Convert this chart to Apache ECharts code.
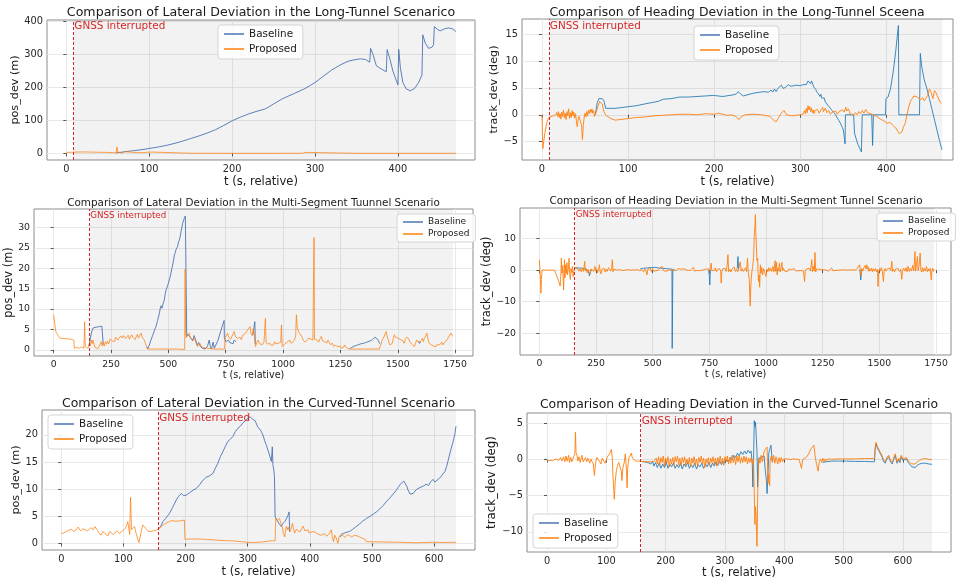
<!DOCTYPE html>
<html>
<head>
<meta charset="utf-8">
<script src="https://cdn.jsdelivr.net/npm/echarts@6.0.0/dist/echarts.min.js"></script>
<style>
html, body { margin: 0; padding: 0; background: #fff; }
#main { width: 959px; height: 585px; }
</style>
</head>
<body>
<div id="main"></div>
<script>
// ---- data ----
// long tunnel, lateral deviation (m)
var latLongBase = [[60,1.5],[62,1],[65,3],[70,5],[80,8],[90,11],[100,15],[110,19],[120,24],[130,30],[140,37],[150,45],[160,53],[170,62],[180,72],[190,85],[200,99],[210,110],[220,120],[230,128],[240,135],[250,150],[260,165],[266,172],[275,182],[288,197],[300,215],[312,238],[320,253],[330,268],[340,280],[347,284],[355,287],[361,285],[366,277],[367,319],[370,300],[374,266],[380,256],[386,248],[387,315],[390,290],[394,250],[400,208],[401,316],[403,260],[406,215],[410,196],[415,190],[420,197],[425,215],[429,238],[430,360],[433,335],[437,319],[441,322],[443,330],[444,385],[448,376],[451,372],[456,378],[461,381],[466,378],[470,370]];
var latLongProp = [[0,3],[10,4],[20,4.5],[30,4],[40,3.5],[50,3],[56,2.5],[60,1.5],[61,20],[62,5],[64,0.5],[67,1],[70,5],[75,4.5],[80,3.5],[85,2.5],[90,2],[95,3],[100,4],[105,4],[107,0.5],[150,0.5],[200,0.3],[250,0.3],[285,0.5],[288,3],[291,3],[293,0.5],[350,0.3],[400,0.3],[450,0.3],[470,0.3]];

// long tunnel, heading deviation (deg)
var headLongBase = [[62,0],[64,2.1],[66,3],[68,3.2],[70,3],[72,2.6],[74,1.2],[76,0.9],[85,1.2],[100,1.5],[110,1.7],[122,2.1],[135,2.5],[141,2.9],[150,3],[160,3.3],[170,3.3],[180,3.4],[190,3.5],[199,3.6],[210,3.4],[222,3.7],[226,3.9],[228,4.3],[231,3.8],[234,3.5],[245,4],[257,4.3],[263,4.2],[266,4.6],[268,4.2],[270,4.8],[272,4.3],[274,4.9],[276,5.2],[278,5.5],[280,4.9],[283,5.1],[286,5.6],[289,5.3],[292,5.4],[296,5.5],[300,5.4],[303,5.6],[305,5.9],[307,5.6],[309,6.3],[310,6],[311,6.5],[312,5.8],[313,6.3],[314,5.9],[315,5.5],[316,5.1],[317,5.4],[318,4.7],[319,4.3],[320,4.6],[321,3.9],[322,4.1],[323,3.4],[324,3.8],[325,3.1],[326,3.3],[327,2.9],[328,3.1],[329,2.4],[330,2.6],[331,2],[332,2.2],[333,1.6],[334,1.8],[335,1.2],[336,1.5],[337,0.8],[338,1.1],[339,0.4],[340,0.6],[341,0],[342,0.2],[343,-0.6],[344,-0.3],[345,-1.1],[346,-0.9],[347,-1.7],[348,-1.5],[349,-2.4],[350,-2.8],[351,-4],[352,-5.4],[352.5,0],[362,0],[363,-3.4],[365,-4.5],[367,-5.5],[369,-6.2],[371,-6.9],[372,0],[383,0],[384,-5.7],[385,0],[399,0],[399.5,3],[402,3.3],[405,5],[408,8],[411,12],[414,16.6],[414.5,0],[438.5,0],[439.4,11.4],[441,9],[444,6.5],[447,4.9],[450,3],[453,1],[456,-1],[459,-3],[462,-5],[464.6,-6.5]];
var headLongProp = [[0,0],[1,-6.3],[2,-5],[4,-2.8],[6,-1.2],[8,-0.5],[10,-0.3],[13,-0.2],[16,0],[17,0.4],[18,-0.3],[19,0.6],[20,-0.5],[21,0.2],[22,-0.8],[23,0.5],[24,-0.3],[25,0.9],[26,-0.6],[27,0.3],[28,-0.9],[29,0.6],[30,-0.2],[31,1.1],[32,-0.7],[33,0.4],[34,-0.5],[35,0.8],[36,-0.2],[37,0.5],[38,-0.6],[39,0.2],[40,-1.2],[41,-2.2],[42,-0.8],[43,-0.3],[44,-0.5],[45,-0.2],[46,-2],[47,-4.6],[48,-2],[49,-0.5],[50,0.3],[51,-0.4],[52,0.6],[53,-0.2],[54,0.9],[55,0.2],[56,1],[57,0.4],[58,1.1],[59,0.3],[60,0.8],[61,-0.3],[62,0],[63,-0.5],[64,1],[65,1.5],[66,2],[67,2.5],[68,2.8],[69,2.4],[70,2],[71,1.2],[72,0.6],[73,0.2],[75,-0.2],[80,-0.7],[85,-1],[90,-0.9],[100,-0.7],[110,-0.5],[120,-0.4],[130,-0.2],[140,-0.1],[150,0],[160,0.1],[170,0.1],[180,0],[190,0.2],[200,0.1],[205,0.3],[210,0.1],[215,-0.1],[220,0],[225,-0.3],[229,-0.9],[232,-0.3],[236,0],[245,0.1],[255,0],[265,-0.3],[269,-1],[272,-1.3],[275,-0.5],[278,0.3],[281,0.8],[284,0],[290,-0.2],[300,0],[303,0.1],[305,0.8],[306,0.2],[307,1.2],[308,0.4],[309,1.7],[310,0.9],[311,1.5],[312,0.6],[313,1.3],[314,0.4],[315,0.9],[316,0.2],[317,0.8],[318,0.5],[320,1],[322,0.3],[324,0.9],[326,1.4],[327,0.6],[329,1.2],[331,0.4],[333,0.8],[335,0.1],[337,0.5],[339,0.2],[341,0.7],[343,0.1],[345,0.6],[347,0.3],[349,0.9],[351,0.5],[353,1.4],[354,0.7],[356,1.1],[358,0.2],[360,0.5],[362,-0.1],[364,0.4],[366,0],[368,0.6],[370,0.2],[372,0.8],[374,0.3],[376,1],[378,0.4],[380,0.1],[382,0.2],[385,0],[389,-0.3],[393,-0.8],[397,-1.1],[401,-1.6],[404,-1.4],[408,-2],[411,-2.5],[413,-3],[415,-3.5],[417,-3.8],[418,-3.2],[420,-2.2],[422,-1.5],[424,0],[426,1.5],[428,2.5],[430,3],[432,3.5],[434,3.7],[436,3.3],[438,3.1],[440,2.8],[442,3.2],[444,2.6],[446,2.9],[448,3.6],[450,4.8],[452,4.2],[454,3],[456,4.5],[458,4],[460,3.2],[462,2.5],[464,2.1]];

// multi-segment tunnel, lateral deviation (m); null = same as Proposed
var latMultiBase = [[153,1],[156,1.6],[160,2.8],[164,4.1],[171,5.3],[180,5.5],[190,5.6],[200,5.7],[210,5.8],[214,5.9],[216,1.5],[217,null],[405,0.8],[410,0.2],[417,1.2],[424,2.4],[432,3.6],[440,4.9],[446,5.7],[453,7.2],[461,9],[465,10.3],[468,10.8],[472,10.2],[475,10.2],[478,11.5],[482,12.2],[486,13.6],[490,14.7],[495,15.4],[500,16.3],[504,16.7],[508,17.9],[512,19],[516,20.1],[519,20.4],[523,22],[526,23.2],[530,23.8],[533,24.5],[537,24.9],[540,25.3],[544,26.4],[548,26.9],[552,27.9],[555,28.9],[559,30],[562,31],[566,31.6],[569,32.2],[574,32.8],[579,32.4],[580,3.3],[584,3.8],[591,4],[597,3],[606,2.2],[612,3.5],[618,2.6],[625,1.2],[632,1.8],[640,0.8],[649,0.4],[660,0.2],[670,0.8],[678,2.4],[683,0.8],[688,0.2],[695,1.9],[700,0.4],[707,0.2],[714,2],[721,3.2],[728,4.6],[736,6],[743,7.2],[744,3],[750,2],[756,1.6],[762,2.4],[768,1.8],[775,2.2],[782,1.5],[787,2.4],[795,2],[796,null],[868,3.6],[873,5.5],[877,6.9],[879,1.5],[880,null],[1290,0.3],[1300,0.6],[1310,0.9],[1320,1.1],[1330,1.3],[1340,1.5],[1350,1.6],[1360,1.8],[1370,2],[1380,2.2],[1390,2.5],[1400,3.1],[1406,3],[1412,2.6],[1418,2.5],[1422,1.5],[1423,null],[1588,2.2],[1595,1.6],[1600,2]];
var latMultiProp = [[0,8.6],[4,8.2],[9,4.5],[14,4],[19,3.7],[26,2.9],[40,2.8],[55,2.7],[70,2.7],[88,2.4],[90,0.4],[100,0.6],[113,0.4],[122,0.7],[132,0.4],[135,6.9],[138,0.8],[142,0.5],[149,0.4],[153,1],[156,1.6],[160,1],[164,2.4],[168,1.5],[171,2.4],[176,1.4],[180,0.6],[185,0.8],[192,0.3],[200,0.4],[204,1.5],[207,2],[211,1],[215,1.8],[220,0.9],[226,2],[230,1.4],[235,2.1],[240,1.5],[245,2.6],[251,2.9],[256,2.2],[260,2.6],[265,2],[270,3.1],[275,3.3],[280,2.4],[285,3],[290,2.6],[295,3.4],[300,2.9],[305,3.5],[309,3.7],[314,2.8],[320,3.2],[325,3.6],[330,2.6],[335,3.2],[340,3.7],[345,3.1],[350,3.4],[355,2.5],[360,3.2],[365,3.8],[370,2.9],[375,3.5],[381,4.1],[385,3.2],[390,3.3],[395,2.4],[400,1.5],[405,0.8],[410,0.2],[450,0.2],[500,0.2],[540,0.2],[571,0.1],[573,19.7],[575,4.1],[578,3],[581,3.6],[584,3.3],[588,4],[591,4.1],[595,3],[600,3.2],[606,2.4],[610,3],[613,3.3],[618,2.2],[622,1.5],[627,0.8],[632,1.2],[637,1.6],[642,1.3],[647,0.6],[652,0.2],[700,0.2],[745,0.2],[747,2.9],[752,3.3],[758,4.1],[763,3.1],[768,3.5],[772,2.6],[777,3.3],[782,3.9],[787,4.5],[792,3.3],[797,3.6],[802,2.8],[806,2.4],[812,3.1],[818,2.5],[824,3.6],[830,3.2],[836,4],[842,4.4],[847,5],[852,5.3],[856,5.7],[859,4.2],[862,4.1],[866,3.5],[870,5.2],[874,3.8],[880,0.8],[885,1.8],[891,2.4],[897,1.5],[903,1.9],[910,1.3],[917,2],[923,7.7],[926,1.9],[932,1.4],[937,1.8],[942,1.6],[948,1.1],[953,1.5],[957,1.2],[963,2],[968,1.5],[973,1.7],[978,1.6],[985,1.2],[990,1.9],[993,6.1],[996,0.8],[1002,1.2],[1008,1.5],[1014,1.6],[1020,2],[1025,1.9],[1029,2.4],[1035,1.6],[1040,1.3],[1043,1.6],[1050,2.4],[1055,3.5],[1058,8.6],[1062,5.4],[1065,4.9],[1069,4.3],[1072,4.5],[1077,4.1],[1082,3.3],[1087,2.4],[1092,2.8],[1096,1.9],[1101,2],[1106,2.4],[1111,2.9],[1116,3.3],[1121,2.6],[1126,2.2],[1130,2.4],[1133,2.2],[1135,27.5],[1137,2.6],[1140,2.8],[1145,2.3],[1150,2.4],[1155,1.9],[1160,2.6],[1167,3.3],[1172,2.2],[1177,2.4],[1181,2],[1186,2.2],[1191,1.7],[1196,2.4],[1201,1.9],[1206,1.3],[1210,1.2],[1215,1.6],[1220,0.9],[1225,0.8],[1230,1.1],[1235,0.7],[1239,0.8],[1244,0.5],[1249,0.9],[1254,0.4],[1260,0.8],[1264,0.6],[1268,1.2],[1272,0.9],[1277,0.5],[1283,0.8],[1290,0.2],[1350,0.2],[1420,0.2],[1423,0.8],[1428,1.5],[1432,2.4],[1435,2.6],[1440,3.2],[1445,3.6],[1449,4.5],[1453,3.4],[1458,2.6],[1462,1.7],[1466,1.2],[1471,0.8],[1476,1.6],[1480,2.6],[1485,3.7],[1490,3.1],[1495,3.4],[1500,2.9],[1505,3.3],[1510,2.6],[1514,2.4],[1518,2.9],[1523,2.2],[1528,1.6],[1533,2.6],[1538,3.1],[1543,3.3],[1548,2.7],[1552,2],[1557,1.8],[1562,1.4],[1567,1.1],[1572,0.8],[1577,1.5],[1582,2.4],[1587,2.4],[1592,1.9],[1597,1.6],[1602,2.3],[1607,2.8],[1612,2],[1616,2.9],[1622,3.4],[1627,4.1],[1632,2.6],[1637,1.6],[1642,1.8],[1647,1.2],[1652,1.2],[1657,0.9],[1662,0.8],[1667,0.8],[1672,1.4],[1677,1.6],[1682,1.2],[1687,1.4],[1692,1.9],[1696,1.2],[1701,1.6],[1706,2],[1711,1.9],[1716,2.5],[1721,3.1],[1725,3.3],[1729,2.9],[1732,4.1],[1736,3.6],[1740,3.4]];

// multi-segment tunnel, heading deviation (deg)
var headMultiBase = [[158,0.6],[165,0.9],[172,0.7],[180,1],[188,0.6],[196,0.8],[204,0.4],[212,0.6],[218,-0.6],[221,-1.8],[223,-2.4],[225,-0.5],[232,0.2],[233,null],[445,0.4],[452,0.9],[460,0.6],[468,1.1],[476,0.7],[484,1.2],[492,0.8],[500,1.3],[508,0.9],[516,1.1],[524,0.7],[532,1],[540,0.6],[548,0.9],[556,0.5],[564,0.7],[572,0.4],[580,0.5],[585,0.3],[586,-24.8],[588,-24.5],[589,0.2],[596,0.3],[597,null],[747,0.2],[750,-2],[752,-4.7],[754,-0.5],[757,0.2],[758,null],[873,0.5],[876,4.3],[879,0.3],[880,null],[1414,0.2],[1418,-3.1],[1421,0.3]];
var headMultiProp = [[0,3.3],[3,3],[5,-3],[7,-7.3],[9,-3],[12,0],[30,0],[50,0],[67,0],[75,-1.5],[85,-3.5],[92,-5],[95,-1],[97,3.8],[100,-1],[103,1.5],[107,-6.3],[109,-1],[111,3.3],[113,-2.5],[116,1.7],[119,-1],[122,2.4],[124,-1.5],[126,-2],[129,1],[131,3.8],[134,-1.5],[137,-3],[140,0.5],[143,-0.8],[146,1.2],[149,-2],[152,-0.5],[156,0.6],[160,0.2],[165,0.9],[171,0.6],[175,-0.3],[180,0.4],[185,-0.5],[190,0.7],[195,-0.4],[200,2.8],[203,-0.3],[207,0.5],[211,-0.8],[215,0.3],[219,-0.5],[223,-1.2],[227,0.4],[231,-0.2],[235,0.6],[240,-0.4],[245,1.2],[249,-0.3],[253,0.5],[257,-0.8],[261,0.2],[265,1.7],[268,-0.4],[272,-1.2],[276,0.3],[280,-0.3],[285,0.6],[290,-0.6],[295,0.4],[300,-0.4],[305,0.8],[310,0.2],[315,-0.3],[319,0.6],[322,3.3],[325,-0.5],[329,0.4],[333,-0.2],[337,0.3],[342,0],[348,-0.4],[354,0.2],[360,-0.3],[364,-0.1],[370,0.1],[380,0],[390,0.2],[400,0],[410,0.1],[420,0],[430,0.2],[440,-0.1],[450,0.1],[455,0.3],[460,-0.5],[465,0.4],[470,-0.3],[475,-1.5],[479,0.4],[484,-0.2],[489,0.6],[494,-0.4],[499,0.5],[504,-0.3],[509,0.3],[514,-0.2],[519,0.4],[524,-0.1],[530,0.6],[537,0.2],[542,1.2],[547,-0.1],[552,0.3],[557,-0.4],[562,0.2],[570,0],[578,0.3],[587,0.1],[595,0.2],[603,-0.2],[610,0.5],[617,0],[624,0.3],[631,-0.3],[638,0.4],[646,0.6],[652,0],[658,0.2],[665,-0.1],[672,0.5],[680,0.9],[684,-0.3],[690,0.2],[696,-0.1],[702,0.3],[708,-0.2],[713,0.2],[718,0],[725,0.1],[733,0.3],[740,-0.1],[746,0.4],[752,-0.3],[758,2.2],[761,-0.2],[765,0.3],[770,-0.1],[776,0.7],[781,-0.5],[785,0.2],[790,-0.3],[795,0.5],[800,-0.2],[802,-4.1],[805,-0.5],[809,0.4],[814,-0.2],[819,0.6],[824,-0.4],[828,1.2],[832,4.9],[835,-0.5],[840,0.3],[845,-0.6],[850,0.4],[855,-0.2],[860,1],[865,-0.4],[870,0.3],[875,-0.5],[880,0.6],[886,2.6],[890,-0.3],[895,0.5],[900,-0.4],[905,0.2],[910,0.8],[914,-0.5],[918,3.8],[922,-0.8],[926,-3],[930,-11.4],[933,-5],[936,-1.5],[941,1.2],[945,4],[948,10.7],[951,14],[953,17.6],[955,12],[957,8.6],[960,3],[963,3.8],[965,-1],[967,-3.6],[970,-1.5],[972,-5.4],[975,1.7],[978,-1],[981,0.8],[985,-1.5],[989,0.5],[993,-0.4],[1000,-2],[1004,0.3],[1008,-0.5],[1012,0.8],[1016,-0.3],[1020,0.6],[1025,-0.4],[1030,1.2],[1035,-0.5],[1040,3],[1043,-0.4],[1046,2.5],[1049,-1.5],[1052,0.6],[1055,-0.3],[1059,2.2],[1062,-0.6],[1066,0.4],[1070,2.5],[1073,-0.2],[1077,0.6],[1082,-0.3],[1088,0.2],[1094,-0.5],[1100,0.3],[1106,-0.3],[1112,0.2],[1118,-0.4],[1124,0.5],[1130,-0.2],[1136,0.1],[1142,-0.2],[1148,0.3],[1154,-0.1],[1160,0.2],[1165,-0.3],[1170,-3.6],[1173,-0.4],[1178,0.4],[1184,-0.2],[1190,0.6],[1196,-0.3],[1202,3.3],[1205,-0.5],[1209,1.2],[1213,-0.3],[1216,5.6],[1219,-0.6],[1223,0.4],[1228,-0.2],[1233,0.3],[1238,-0.1],[1245,0.2],[1252,-0.2],[1260,0.1],[1268,0.3],[1275,-0.3],[1283,0.2],[1289,0.7],[1295,-0.2],[1302,0.1],[1320,0],[1340,0.1],[1360,0],[1380,0.1],[1391,0],[1400,0.3],[1406,0.6],[1413,1.7],[1416,-0.4],[1420,-1.8],[1423,0.5],[1427,-0.3],[1432,0.8],[1437,1.5],[1441,0.4],[1444,1.7],[1447,0.3],[1450,1.1],[1454,-0.4],[1458,0.5],[1462,-0.3],[1466,0.6],[1470,-0.5],[1475,0.4],[1479,-0.3],[1483,0.5],[1488,-0.6],[1492,0.2],[1494,-5.2],[1497,-0.4],[1501,0.5],[1505,-0.3],[1509,0.8],[1513,-0.4],[1518,-3.6],[1521,-0.2],[1525,0.5],[1530,-0.3],[1535,0.4],[1540,-0.2],[1545,0.6],[1550,-0.1],[1555,2.8],[1558,-0.4],[1562,0.3],[1567,-0.5],[1572,0.4],[1577,-0.2],[1583,0.5],[1588,-0.4],[1594,0.3],[1599,-2.9],[1602,-0.2],[1607,0.6],[1612,-0.3],[1617,0.8],[1622,-0.5],[1627,1.2],[1632,-0.4],[1637,0.6],[1642,-0.3],[1647,1.5],[1652,-0.2],[1657,5.9],[1660,-0.3],[1664,1.8],[1668,4.3],[1671,-0.2],[1675,1.2],[1680,5.4],[1683,0.1],[1687,-0.6],[1690,0.8],[1694,-0.4],[1698,0.6],[1703,-0.3],[1708,1.2],[1712,-0.5],[1716,0.4],[1720,-0.3],[1724,0.6],[1729,-3.1],[1732,-0.2],[1735,0.6],[1738,-0.4],[1741,0.3]];

// curved tunnel, lateral deviation (m)
var latCurveBase = [[156,2.6],[160,3.1],[163.5,4],[168,4.6],[174,5.5],[179,6.6],[185,8],[189,8.7],[193,9.2],[197,8.8],[201,8.9],[206,9.3],[212,9.8],[217,10.1],[222.5,10.8],[227,11.5],[233,12.2],[238,12.4],[244,12.9],[248,13.9],[252,14.8],[256,16],[260,16.9],[264,17.9],[268,18.8],[272,19.2],[276,19.7],[280,20.6],[284,21.2],[288,21.6],[292,22.2],[296,22.6],[300,23.1],[304,23.3],[308,22.9],[312,22.6],[316,21.5],[319,21.1],[322,20.6],[325,19.8],[327,19],[330,18.1],[332.5,17.2],[335,16.3],[338,15.1],[339.5,17.8],[340.5,14.5],[342,13.5],[343,12.3],[344,4.9],[347,4.3],[349,4],[351,3.5],[354,3.1],[356,3.6],[359.5,4],[362,4.5],[365,5.2],[366.5,5.8],[367.5,2.1],[368,null],[449,1.2],[453,1.8],[458,2],[464,2.2],[469,2.6],[474.5,3.1],[480,3.6],[485,4.1],[491,4.6],[497,5],[502,5.4],[507,5.8],[512,6.3],[518,7],[523,7.7],[528,8.3],[534,9.1],[539,9.8],[543,10.5],[547,11.1],[551,11.5],[554,11.7],[556,10.5],[558,9.8],[561,9.1],[563,9],[566,9.2],[568,9.5],[571,9.9],[574,9.8],[577,10.3],[580,10],[583,10.6],[585,10.5],[587,10.9],[589,11.2],[591,10.7],[594,11.3],[596,11.5],[598,11.8],[601,11.3],[603,11.6],[606,11.8],[608,12],[611,12.3],[614,12.8],[617,13.2],[620,14.2],[622,15.1],[625,16.5],[627,17.4],[630,18.6],[633,20],[635,21.6]];
var latCurveProp = [[0,1.85],[4,1.9],[8,2.2],[12,2.4],[16,2.6],[20,2.2],[24,2.5],[27,3],[31,2.3],[35,2.7],[38,2.8],[42,2.3],[45,2.6],[48,2.9],[51,2.5],[54,3.1],[57,2.6],[60,2],[64,1.5],[67,2.2],[70,1.8],[75,1.35],[78,2.2],[81,2.5],[84,1.6],[86,1.6],[89,2.3],[91,2.5],[94,1.8],[97,2.2],[100,2.1],[102,2.6],[105,3.2],[107,4],[109,2.5],[110,1.6],[111.5,8.5],[113,2.5],[115,2.6],[118,3.1],[120,2],[122,1.2],[125,0.1],[128,1.8],[131,3.4],[134,3.2],[137,2.6],[140,2.2],[144,2.2],[148,2.3],[152,2.4],[156,2.6],[160,3],[164,3.4],[168,3.7],[174,4],[178,4.2],[182,4.1],[185,4.3],[188,4.1],[191,4.4],[194,4.2],[196,4.1],[198,4.3],[199,0.75],[210,0.8],[222,0.8],[235,0.7],[249,0.6],[262,0.5],[276,0.45],[290,0.3],[303,0.15],[315,0.2],[324,0.25],[333,0.4],[340,0.5],[344,0.45],[345,4.6],[347,4.2],[349,4],[351,4.6],[353,3.8],[354,4.1],[356,2.8],[357,2],[359.5,1.2],[362,3.1],[364,2.5],[365,3],[367.5,2.1],[370,2.8],[372,3.7],[374,2.5],[375.5,1.9],[378,2.6],[381,2.8],[384,2.1],[386,2.4],[389,3.2],[392,2.3],[394,2.2],[397,2.5],[399,1.9],[402,1.8],[405,2.2],[409,2],[413,1.7],[418,1.5],[421,1.8],[424,1.8],[427,1.3],[429,1.35],[432,1.9],[434.5,2.5],[436,1.2],[438,0.3],[440,1.5],[441,1.8],[443,0.8],[445,0],[447,1.2],[449,1.2],[451,1.8],[453,1.8],[456,1.1],[458,1.2],[461,1.6],[464,1.7],[467,1.2],[469,1.35],[472,1.5],[474.5,1.55],[478,1.3],[480,1.2],[483,1],[485,0.9],[488,0.8],[490,0.8],[491,0.3],[518,0.25],[544,0.2],[557,0.15],[571,0.1],[585,0.15],[598,0.2],[615,0.15],[635,0.2]];

// curved tunnel, heading deviation (deg)
var headCurveBase = [[160,-0.25],[170,-0.4],[175,-0.6],[178,-0.2],[180,-0.9],[183,-0.4],[186,-1.1],[189,-0.5],[192,-1.2],[195,-0.6],[198,-1.1],[201,-0.4],[204,-1.2],[207,-0.6],[210,-1],[213,-0.5],[216,-1.2],[219,-0.7],[222,-1.1],[225,-0.5],[228,-1.3],[231,-0.6],[234,-1],[237,-0.4],[240,-1.2],[243,-0.7],[246,-1.1],[249,-0.5],[252,-1.3],[255,-0.7],[258,-1],[261,-0.5],[264,-1.2],[267,-0.6],[270,-1],[273,-0.4],[276,-1.1],[279,-0.5],[282,-0.9],[285,-0.3],[288,-0.8],[291,-0.2],[294,-0.7],[297,-0.2],[300,-0.5],[303,0],[306,-0.4],[309,0.3],[312,0],[315,0.6],[318,0.3],[321,0.9],[324,0.5],[327,1.1],[330,0.7],[333,1.2],[336,0.8],[339,1.3],[342,0.9],[344,1.2],[346,-0.5],[347,-3.8],[348,-1],[349.4,5.4],[350.5,4.6],[351.5,5.2],[353,5],[354,1],[355,-3.8],[356,-1],[357,0.2],[366,0.5],[368,-1.5],[370,-3],[371,-4.7],[372.5,-2],[374,1],[376,1.6],[377.5,2],[379,0.5],[380,-0.3],[381,null],[465,-0.4],[470,-0.3],[480,-0.2],[490,-0.2],[505,-0.2],[520,-0.25],[535,-0.25],[548,-0.3],[552,-0.3],[553,1.3],[554.5,2.2],[557,1.6],[559,1.3],[562,0.8],[564.6,0.4],[567,-0.2],[570,-0.5],[573,0.1],[576,0.4],[579,-0.3],[582,-0.6],[585,0.2],[587,0.6],[590,-0.5],[593,0],[595,-0.4],[597,0.4],[600,-0.1],[603,-0.3],[606,0.1],[609,-0.4],[612,-0.6],[615,-1],[618,-1.2],[621,-1.1],[624,-0.8],[628,-0.6],[633,-0.5],[638,-0.5],[643,-0.6],[649,-0.65]];
var headCurveProp = [[0,-0.2],[5,-0.1],[10,-0.15],[14,0.1],[17,0.15],[20,-0.1],[23,0.3],[25,-0.2],[28,0.4],[30,-0.3],[32,0.5],[34,-0.2],[36.5,0.6],[38,-0.4],[40,0.3],[42,-0.3],[45,0.4],[47,0.8],[48,3.8],[49,1],[50.5,0.6],[52,-0.2],[54,0.4],[56,-0.4],[59,0.6],[61,-0.3],[63,-0.4],[65,0.3],[67,-0.3],[69,0.2],[72,-0.5],[74,0.1],[76,-0.3],[78,-0.6],[80,-2.2],[82,-0.4],[84,0.3],[87,0.4],[89,-0.3],[91,-0.6],[93,0.2],[95.5,0.1],[98,-0.5],[100,-0.3],[102,0.4],[104,0.6],[106,0.9],[108.4,1.4],[110,0.4],[111,-2],[113.5,-5.5],[115,-3],[117,-1.5],[119,-0.8],[121,-0.4],[123.6,-0.3],[125,-1.5],[126.4,-2.9],[128,-1.1],[130,-0.5],[132,0.8],[134,-1.5],[135,-3.9],[136,-1.2],[138,0.2],[140.4,0.6],[142,0.9],[144,0.2],[147,0.3],[150,-0.2],[154,-0.2],[160,-0.25],[170,-0.3],[180,-0.3],[184,0.2],[186,-0.6],[188,0.4],[190,-0.8],[192,0.3],[194,-0.4],[196,0.5],[198,-0.9],[200,0.2],[202,-0.5],[204,0.4],[206,-1],[208,0.1],[210,-0.6],[212,0.3],[214,-0.8],[216,0.4],[218,-0.3],[220,0.5],[222,-0.7],[224,0.2],[226,-0.9],[228,0.3],[230,-0.4],[232,0.4],[234,-0.8],[236,0.1],[238,-0.6],[240,0.3],[242,-1],[244,0.2],[246,-0.5],[248,0.4],[250,-0.7],[252,0.1],[254,-0.9],[256,0.3],[258,-0.4],[260,0.5],[262,-0.6],[264,0.2],[266,-1.1],[268,0.1],[270,-0.5],[272,0.3],[274,-0.8],[276,0.2],[278,-0.4],[280,0.4],[282,-0.7],[284,0.2],[286,-0.9],[288,0.3],[290,-0.5],[292,0.5],[294,-0.6],[296,0.2],[298,-0.8],[300,0.4],[302,-0.3],[304,0.5],[306,-0.6],[308,0.3],[310,-0.5],[312,0.6],[314,-0.4],[316,0.4],[318,-0.7],[320,0.5],[322,-0.3],[324,0.6],[326,-0.5],[328,0.3],[330,-0.4],[332,0.5],[334,-0.3],[336,0.4],[338,-0.6],[340,0.2],[342,-0.4],[344,0.3],[346,-0.5],[348,0.1],[349.4,-4.7],[350.5,-9],[351.5,-6.5],[352.5,-8],[354,-12],[355,-6],[355.6,-3.3],[357,0.2],[359,-0.5],[361,0.6],[363,-0.3],[365,0.8],[367,1.3],[368,1.5],[370,1.2],[371,1.75],[372.5,-3.3],[373.5,-2],[375.3,-3.6],[376,-0.3],[378,0.5],[380,-0.4],[382,0.6],[384,-0.5],[386,0.4],[387.6,0.4],[389,-0.6],[391,0.3],[393,-0.4],[395,0.3],[397,-0.3],[399,0.1],[402,0],[405,0.1],[410,0],[415,0.1],[420,0.05],[425,0],[427,-0.2],[429,-1.2],[431,0],[434,0.1],[438,0.4],[441,0.8],[445,1.5],[450,2],[452,0.5],[454,-0.5],[457,-1.6],[459,-0.3],[461,0.1],[463,-0.4],[465,0.2],[467,-0.3],[469,0.1],[471,-0.2],[473,0.1],[480,0.05],[490,0.1],[505,0.1],[520,0.1],[535,0.15],[545,0.15],[552,0.15],[553,1.5],[554.5,2.4],[557,1.8],[559,1.6],[562,1],[564.6,0.6],[567,0],[570,-0.3],[573,0.3],[576,0.6],[579,-0.1],[582,-0.4],[585,0.4],[587,0.8],[590,-0.3],[593,0.2],[595,-0.2],[597,0.6],[600,0.1],[603,-0.1],[606,0.3],[609,-0.2],[612,-0.2],[615,-0.6],[618,-0.8],[621,-0.6],[624,-0.3],[628,-0.1],[633,0.1],[638,0.15],[643,0.05],[649,0]];

// tick labels
var xTicksLong = [0, 100, 200, 300, 400];
var xTicksMulti = [0, 250, 500, 750, 1000, 1250, 1500, 1750];
var xTicksCurve = [0, 100, 200, 300, 400, 500, 600];
var yTicksLatLong = [0, 100, 200, 300, 400];
var yTicksHeadLong = [-5, 0, 5, 10, 15];
var yTicksLatMulti = [0, 5, 10, 15, 20, 25, 30];
var yTicksHeadMulti = [-20, -10, 0, 10];
var yTicksLatCurve = [0, 5, 10, 15, 20];
var yTicksHeadCurve = [-10, -5, 0, 5];

// GNSS outage start / end of shaded span (s), and height of the note
var gnssStart = [8.5, 8, 155, 156, 156, 158];
var spanEnd = [470, 465, 1740, 1741, 635, 649];
var noteHeight = [385, 16.4, 32.8, 17.6, 23.1, 5.36];

var titles = [
  'Comparison of Lateral Deviation in the Long-Tunnel Scenarico',
  'Comparison of Heading Deviation in the Long-Tunnel Sceena',
  'Comparison of Lateral Deviation in the Multi-Segment Tuunnel Scenario',
  'Comparison of Heading Deviation in the Multi-Segment Tunnel Scenario',
  'Comparison of Lateral Deviation in the Curved-Tunnel Scenario',
  'Comparison of Heading Deviation in the Curved-Tunnel Scenario'
];
var yNames = ['pos_dev (m)', 'track_dev (deg)', 'pos_dev (m)', 'track_dev (deg)', 'pos_dev (m)', 'track_dev (deg)'];

var panels = [
  {base: latLongBase, prop: latLongProp, xt: xTicksLong, yt: yTicksLatLong, lat: true},
  {base: headLongBase, prop: headLongProp, xt: xTicksLong, yt: yTicksHeadLong, lat: false},
  {base: latMultiBase, prop: latMultiProp, xt: xTicksMulti, yt: yTicksLatMulti, lat: true},
  {base: headMultiBase, prop: headMultiProp, xt: xTicksMulti, yt: yTicksHeadMulti, lat: false},
  {base: latCurveBase, prop: latCurveProp, xt: xTicksCurve, yt: yTicksLatCurve, lat: true},
  {base: headCurveBase, prop: headCurveProp, xt: xTicksCurve, yt: yTicksHeadCurve, lat: false}
];

// ---- layout (pixels) ----
var layout = [
  {grid: [47, 20, 428, 140], xr: [-23.3, 493], yr: [-20, 405], title: [261, 12.3, 12.6], legend: [218, 25], big: true, xGap: 16, yGap: 18, yName: 11.2},
  {grid: [522, 19, 431, 141], xr: [-23.2, 477.4], yr: [-8.4, 17.8], title: [737, 13, 12.4], legend: [694, 26], big: true, xGap: 16, yGap: 18, yName: 11.2},
  {grid: [34, 209, 439, 147], xr: [-85.8, 1828], yr: [-1.5, 34.5], title: [253.5, 203, 10.4], legend: [397, 214], big: false, xGap: 14, yGap: 12, yName: 11.4},
  {grid: [520, 208, 431, 147], xr: [-85.4, 1816], yr: [-26.9, 19.7], title: [736, 201.7, 10.4], legend: [877, 213], big: false, xGap: 14, yGap: 19, yName: 11.4},
  {grid: [42, 410, 433, 140], xr: [-31, 665.6], yr: [-1.23, 24.6], title: [258.5, 403.3, 12.5], legend: [48, 415], big: true, xGap: 16, yGap: 15, yName: 11.2},
  {grid: [527, 413, 424, 139], xr: [-33.7, 681], yr: [-12.8, 6.46], title: [739, 405, 12.4], legend: [533, 514], big: true, xGap: 15, yGap: 21, yName: 11.8}
];

var FONT = 'DejaVu Sans';
var BLUE_LAT = '#4a74b4', BLUE_HEAD = '#1f77b4', ORANGE = '#ff7f0e', RED = '#d62728';

function tickFmt(v) {
  return v < 0 ? '\u2212' + Math.abs(v) : String(v);
}

var chart = echarts.init(document.getElementById('main'));
var option = {
  animation: false,
  backgroundColor: '#fff',
  title: [], legend: [], grid: [], xAxis: [], yAxis: [], series: []
};

for (var i = 0; i < panels.length; i++) {
  var p = panels[i], L = layout[i];
  var tickSize = L.big ? 9.8 : 9.3;
  var nameSize = L.big ? 11.5 : 9.6;
  var legSize = L.big ? 10.4 : 9;
  var noteSize = L.big ? 10.4 : 8.7;

  option.title.push({
    text: titles[i], left: L.title[0], top: L.title[1] - L.title[2] / 2 - 1,
    textAlign: 'center', padding: 0,
    textStyle: {fontFamily: FONT, fontSize: L.title[2], fontWeight: 'normal', color: '#1a1a1a', lineHeight: L.title[2] + 2}
  });
  option.grid.push({
    left: L.grid[0], top: L.grid[1], width: L.grid[2], height: L.grid[3],
    show: true, borderColor: '#8c8c8c', borderWidth: 1, backgroundColor: '#fff'
  });
  option.xAxis.push({
    type: 'value', gridIndex: i, min: L.xr[0], max: L.xr[1],
    name: 't (s, relative)', nameLocation: 'middle', nameGap: L.xGap,
    nameTextStyle: {fontFamily: FONT, fontSize: nameSize, color: '#1a1a1a'},
    axisLine: {show: false},
    axisTick: {show: true, customValues: p.xt, length: 3, lineStyle: {color: '#555'}},
    axisLabel: {customValues: p.xt, formatter: tickFmt, margin: 4, fontFamily: FONT, fontSize: tickSize, color: '#262626'},
    splitLine: {show: true, lineStyle: {color: '#e3e3e3', width: 0.8}}
  });
  option.yAxis.push({
    type: 'value', gridIndex: i, min: L.yr[0], max: L.yr[1],
    name: yNames[i], nameLocation: 'middle', nameGap: L.yGap,
    nameTextStyle: {fontFamily: FONT, fontSize: L.yName, color: '#1a1a1a'},
    axisLine: {show: false},
    axisTick: {show: true, customValues: p.yt, length: 3, lineStyle: {color: '#555'}},
    axisLabel: {customValues: p.yt, formatter: tickFmt, margin: 4, fontFamily: FONT, fontSize: tickSize, color: '#262626'},
    splitLine: {show: true, lineStyle: {color: '#e3e3e3', width: 0.8}}
  });

  // shaded outage span, dashed start line and note
  option.series.push({
    type: 'line', name: 'span' + i, xAxisIndex: i, yAxisIndex: i, data: [], silent: true, z: 1,
    markArea: {silent: true, itemStyle: {color: 'rgba(0,0,0,0.05)'},
      data: [[{xAxis: gnssStart[i]}, {xAxis: spanEnd[i]}]]},
    markLine: {silent: true, symbol: 'none', label: {show: false},
      lineStyle: {type: [3, 2], color: RED, width: 1},
      data: [{xAxis: gnssStart[i]}]},
    markPoint: {silent: true, symbol: 'circle', symbolSize: 0,
      label: {show: true, position: 'right', distance: 1, formatter: 'GNSS interrupted',
        color: RED, fontFamily: FONT, fontSize: noteSize},
      data: [{coord: [gnssStart[i], noteHeight[i]]}]}
  });
  var blue = p.lat ? BLUE_LAT : BLUE_HEAD;
  option.series.push({
    type: 'line', name: 'Baseline', xAxisIndex: i, yAxisIndex: i, data: p.base,
    showSymbol: false, symbol: 'none', connectNulls: false, z: 3,
    itemStyle: {color: blue}, lineStyle: {color: blue, width: 1, opacity: p.lat ? 0.9 : 0.85}
  });
  option.series.push({
    type: 'line', name: 'Proposed', xAxisIndex: i, yAxisIndex: i, data: p.prop,
    showSymbol: false, symbol: 'none', connectNulls: false, z: 4,
    itemStyle: {color: ORANGE}, lineStyle: {color: ORANGE, width: 1, opacity: p.lat ? 0.75 : 0.9}
  });

  option.legend.push({
    data: ['Baseline', 'Proposed'], orient: 'vertical', left: L.legend[0], top: L.legend[1],
    icon: 'rect', itemWidth: 20, itemHeight: 1.5, itemGap: L.big ? 3 : 2,
    padding: L.big ? [3, 6, 4, 6] : [3, 6, 3, 6],
    backgroundColor: 'rgba(255,255,255,0.85)', borderColor: '#d5d5d5', borderWidth: 1, borderRadius: 3,
    selectedMode: false,
    textStyle: {fontFamily: FONT, fontSize: legSize, color: '#1a1a1a', lineHeight: L.big ? 12 : 10}
  });
}

chart.setOption(option);
</script>
</body>
</html>
